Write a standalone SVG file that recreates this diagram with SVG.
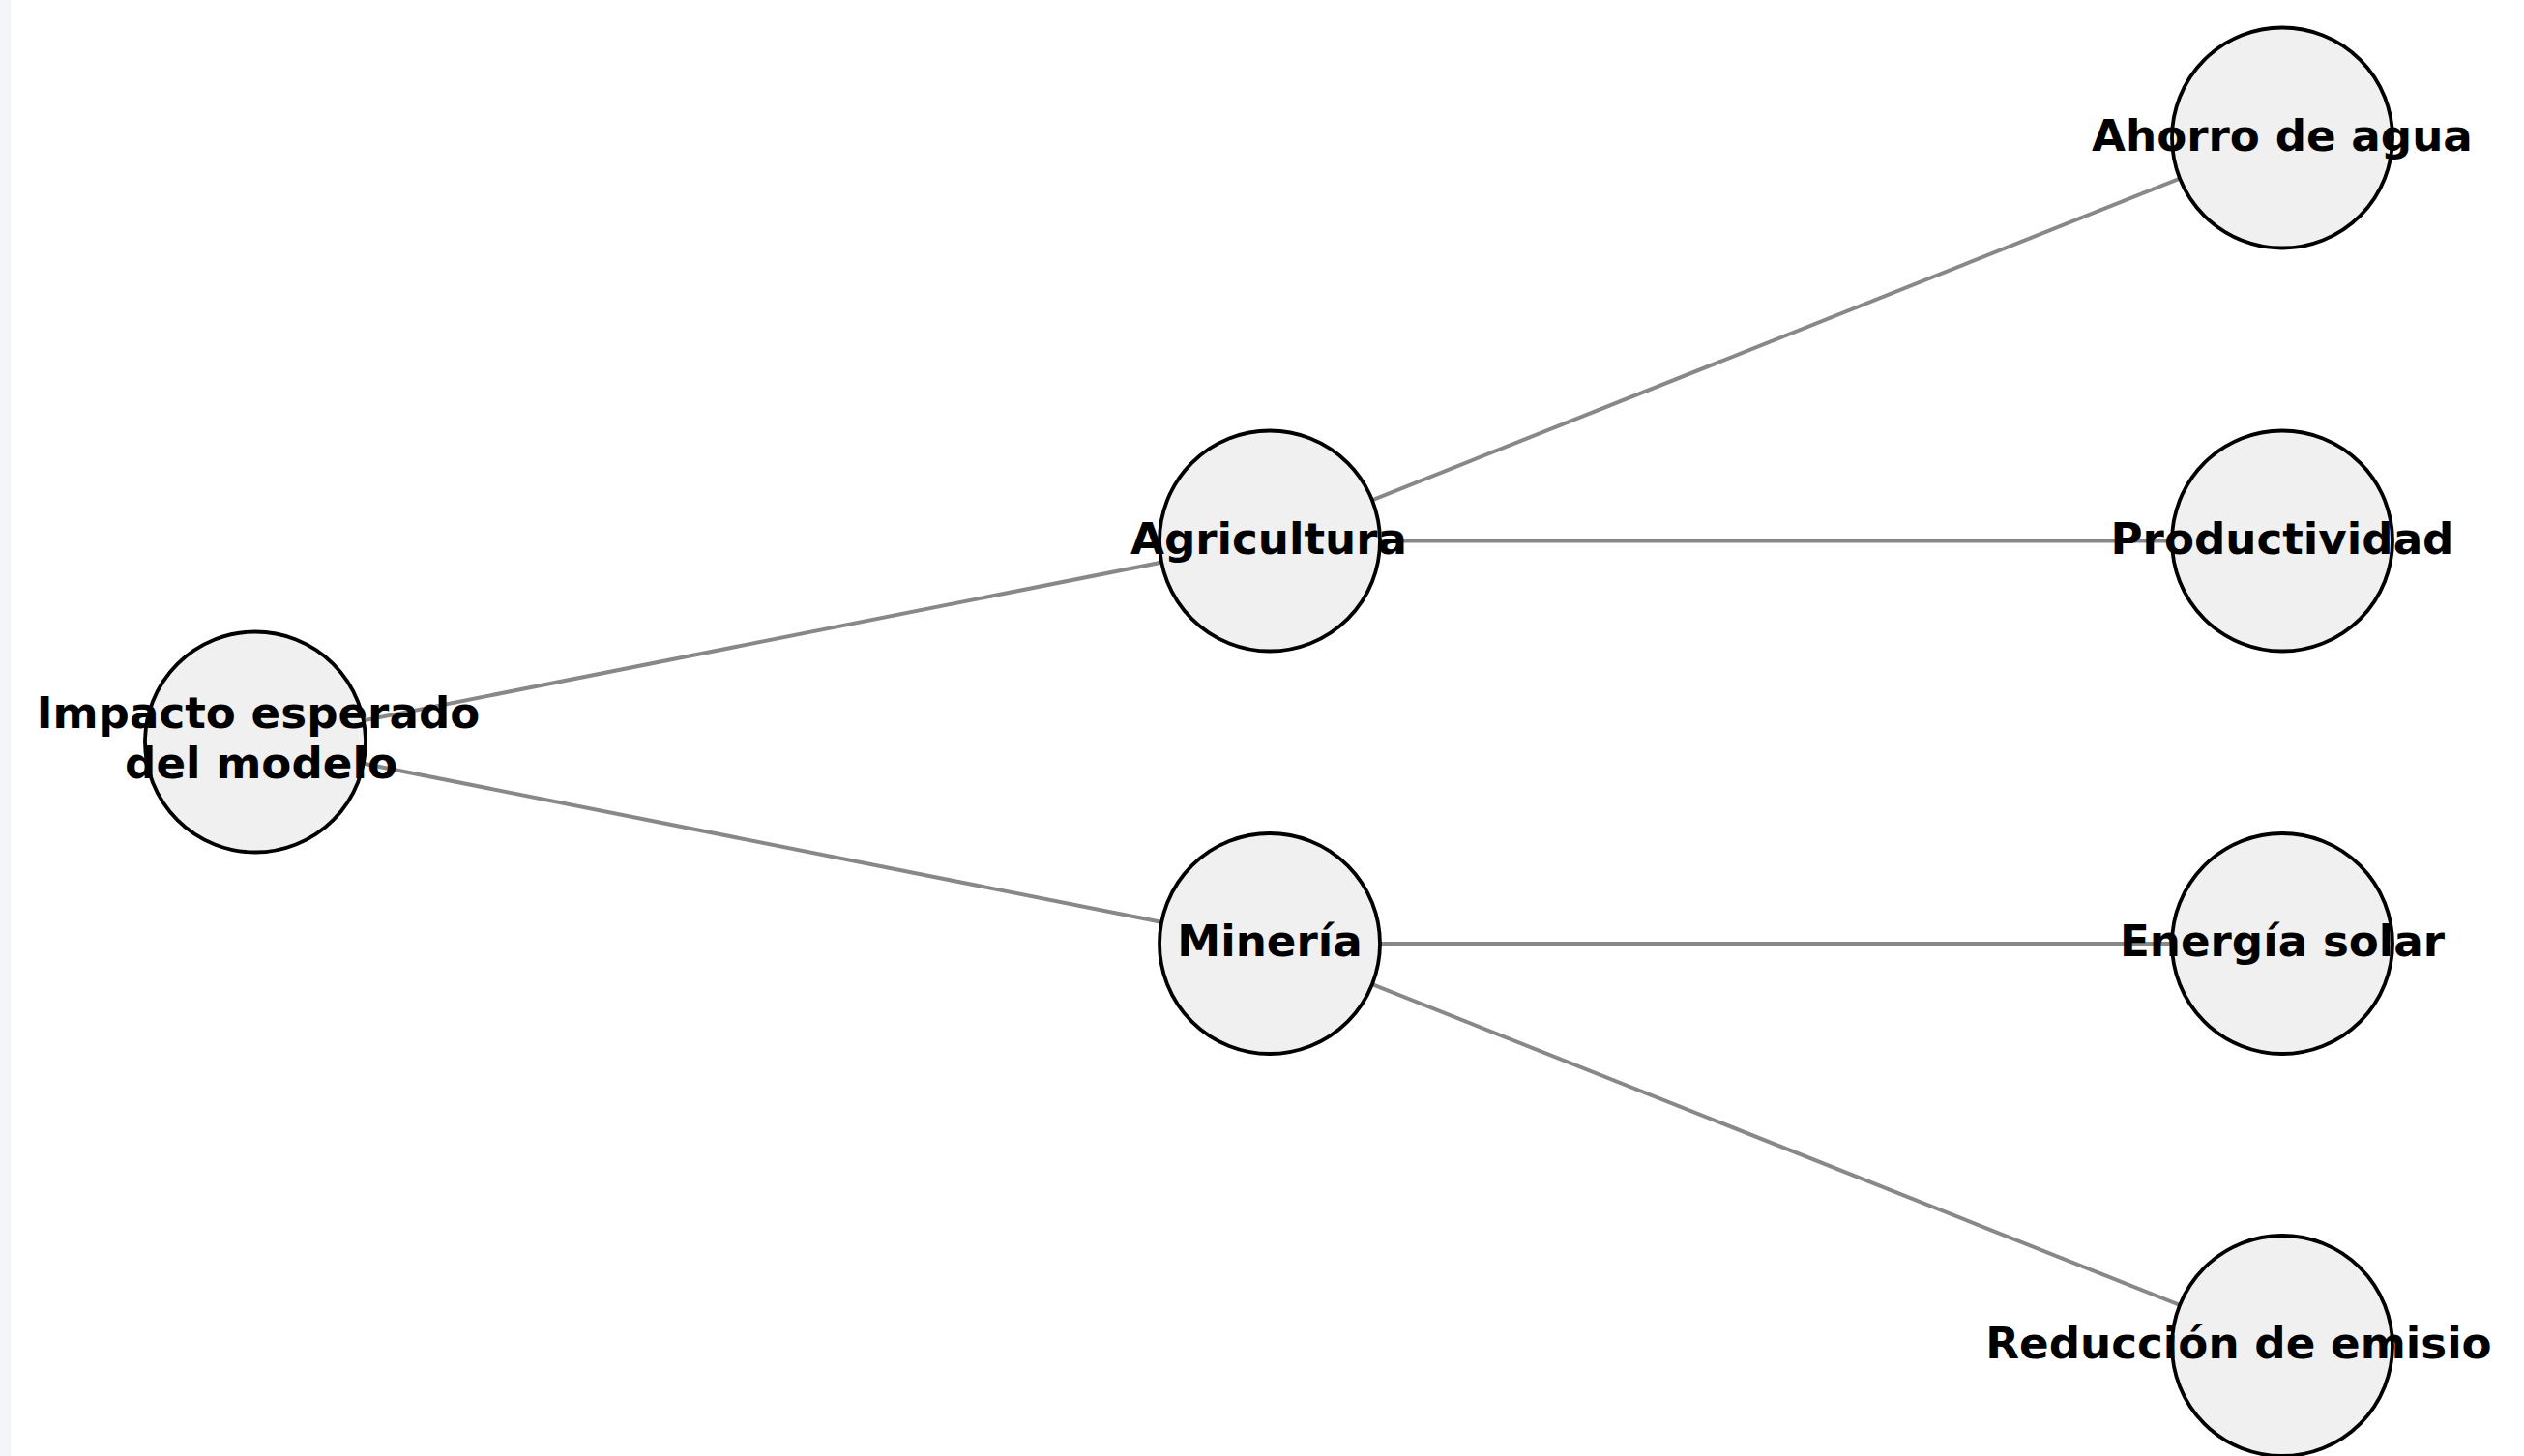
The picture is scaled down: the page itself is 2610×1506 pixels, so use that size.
<svg xmlns="http://www.w3.org/2000/svg" width="2610" height="1506" viewBox="0 0 2610 1506">
<style>
.node circle{fill:#f0f0f0;stroke:#000;stroke-width:3.8}
.node text{font-family:"DejaVu Sans",sans-serif;font-weight:bold;font-size:45.2px;fill:#000;text-anchor:middle}
.edge{stroke:#888;stroke-width:4;fill:none}
</style>
<rect x="0" y="0" width="2610" height="1506" fill="#fff"/>
<rect x="0" y="0" width="11" height="1506" fill="#f4f5f9"/>
<g id="connectors">
<line class="edge" x1="264" y1="767.5" x2="1313" y2="559.5"/>
<line class="edge" x1="264" y1="767.5" x2="1313" y2="976"/>
<line class="edge" x1="1313" y1="559.5" x2="2360" y2="142.5"/>
<line class="edge" x1="1313" y1="559.5" x2="2360" y2="559.5"/>
<line class="edge" x1="1313" y1="976" x2="2360" y2="976"/>
<line class="edge" x1="1313" y1="976" x2="2360" y2="1392"/>
</g>
<g id="node-impacto" class="node"><circle cx="264" cy="767.5" r="114"/><text x="267" y="753">Impacto esperado</text><text x="270" y="805">del modelo</text></g>
<g id="node-agricultura" class="node"><circle cx="1313" cy="559.5" r="114"/><text x="1312" y="573">Agricultura</text></g>
<g id="node-mineria" class="node"><circle cx="1313" cy="976" r="114"/><text x="1313" y="989">Minería</text></g>
<g id="node-ahorro" class="node"><circle cx="2360" cy="142.5" r="114"/><text x="2360" y="156">Ahorro de agua</text></g>
<g id="node-productividad" class="node"><circle cx="2360" cy="559.5" r="114"/><text x="2360" y="573">Productividad</text></g>
<g id="node-energia" class="node"><circle cx="2360" cy="976" r="114"/><text x="2360" y="989">Energía solar</text></g>
<g id="node-reduccion" class="node"><circle cx="2360" cy="1392" r="114"/><text x="2315" y="1405">Reducción de emisio</text></g>
</svg>
